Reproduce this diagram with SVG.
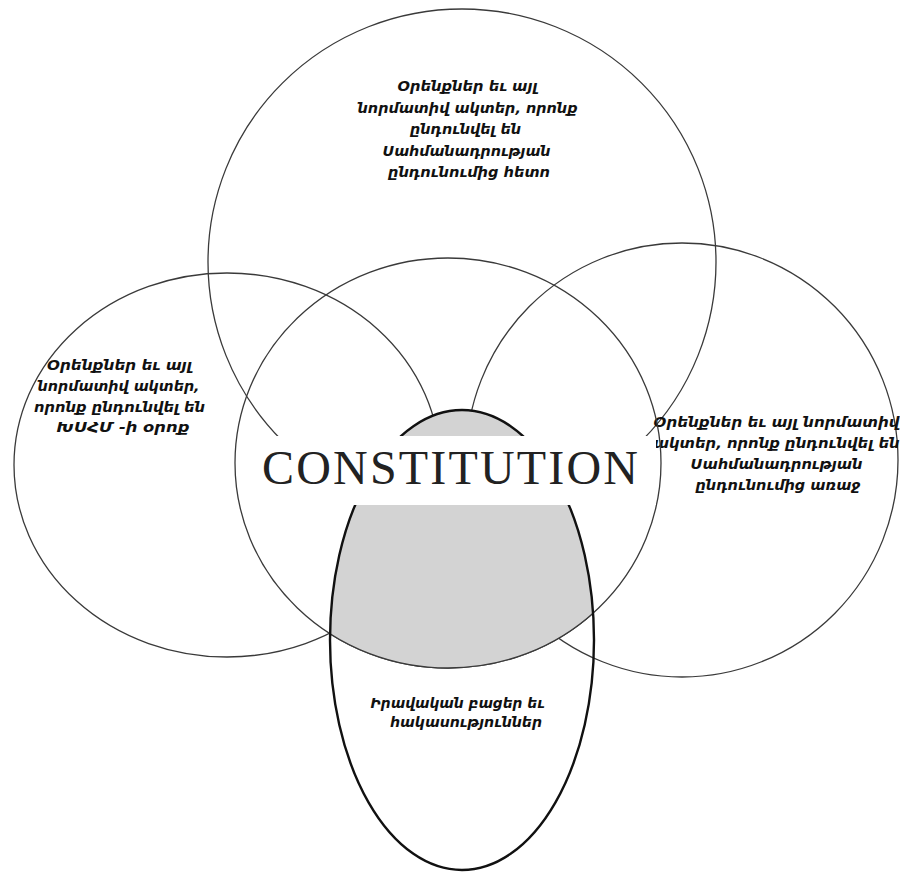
<svg xmlns="http://www.w3.org/2000/svg" width="900" height="877" viewBox="0 0 900 877">
  <style>
    .ring { fill: none; stroke: #3a3a3a; stroke-width: 1.3; }
    .lens { fill: none; stroke: #111; stroke-width: 2.4; }
    .note { font-family: "DejaVu Sans", "Noto Sans", sans-serif; font-size: 14px; font-weight: bold; font-style: italic; fill: #111; text-anchor: middle; }
    .title { font-family: "Liberation Serif", "DejaVu Serif", serif; font-size: 48px; fill: #222; text-anchor: middle; }
  </style>
  <defs>
    <clipPath id="clip-core">
      <ellipse cx="448" cy="463" rx="213" ry="205"/>
    </clipPath>
    <clipPath id="clip-lens">
      <ellipse cx="462" cy="640" rx="132" ry="230"/>
    </clipPath>
  </defs>

  <rect width="900" height="877" fill="#fff"/>

  <!-- laws adopted after the constitution -->
  <g id="node-top">
    <ellipse class="ring" cx="462" cy="262" rx="254" ry="253"/>
    <text class="note">
      <tspan x="470" y="91" textLength="140" lengthAdjust="spacingAndGlyphs">Օրենքներ եւ այլ</tspan>
      <tspan x="470" y="113" textLength="220" lengthAdjust="spacingAndGlyphs">նորմատիվ ակտեր,  որոնք</tspan>
      <tspan x="468" y="134" textLength="111" lengthAdjust="spacingAndGlyphs">ընդունվել են</tspan>
      <tspan x="469" y="156" textLength="168" lengthAdjust="spacingAndGlyphs">Սահմանադրության</tspan>
      <tspan x="469" y="177" textLength="162" lengthAdjust="spacingAndGlyphs">ընդունումից  հետո</tspan>
    </text>
  </g>

  <!-- laws adopted in the USSR period -->
  <g id="node-left">
    <ellipse class="ring" cx="227" cy="465" rx="213" ry="192"/>
    <text class="note">
      <tspan x="122" y="370" textLength="145" lengthAdjust="spacingAndGlyphs">Օրենքներ եւ այլ</tspan>
      <tspan x="121" y="391" textLength="162" lengthAdjust="spacingAndGlyphs">նորմատիվ ակտեր,</tspan>
      <tspan x="122" y="412" textLength="171" lengthAdjust="spacingAndGlyphs">որոնք ընդունվել են</tspan>
      <tspan x="123" y="432" textLength="133" lengthAdjust="spacingAndGlyphs">ԽՍՀՄ -ի օրոք</tspan>
    </text>
  </g>

  <!-- laws adopted before the constitution -->
  <g id="node-right">
    <ellipse class="ring" cx="682" cy="460" rx="216" ry="217"/>
    <text class="note">
      <tspan x="779" y="427" textLength="246" lengthAdjust="spacingAndGlyphs">Օրենքներ եւ այլ  նորմատիվ</tspan>
      <tspan x="779" y="448" textLength="246" lengthAdjust="spacingAndGlyphs">ակտեր,  որոնք ընդունվել են</tspan>
      <tspan x="779" y="469" textLength="172" lengthAdjust="spacingAndGlyphs">Սահմանադրության</tspan>
      <tspan x="778" y="490" textLength="165" lengthAdjust="spacingAndGlyphs">ընդունումից առաջ</tspan>
    </text>
  </g>

  <!-- constitution ring -->
  <g id="node-center-ring">
    <ellipse class="ring" cx="448" cy="463" rx="213" ry="205"/>
  </g>

  <!-- shaded overlap: gaps inside the constitution -->
  <g id="overlap">
    <ellipse cx="462" cy="640" rx="132" ry="230" fill="#d3d3d3" clip-path="url(#clip-core)"/>
    <ellipse class="ring" cx="448" cy="463" rx="213" ry="205" clip-path="url(#clip-lens)"/>
  </g>

  <!-- legal gaps and contradictions -->
  <g id="node-bottom">
    <ellipse class="lens" cx="462" cy="640" rx="132" ry="230"/>
    <text class="note">
      <tspan x="460" y="708" textLength="174" lengthAdjust="spacingAndGlyphs">Իրավական բացեր եւ</tspan>
      <tspan x="466" y="727" textLength="152" lengthAdjust="spacingAndGlyphs">հակասություններ</tspan>
    </text>
  </g>

  <!-- central label on a white band -->
  <g id="node-center">
    <rect x="241" y="436" width="415" height="69" fill="#fff"/>
    <text class="title" x="450" y="484" textLength="376" lengthAdjust="spacing">CONSTITUTION</text>
  </g>
</svg>
